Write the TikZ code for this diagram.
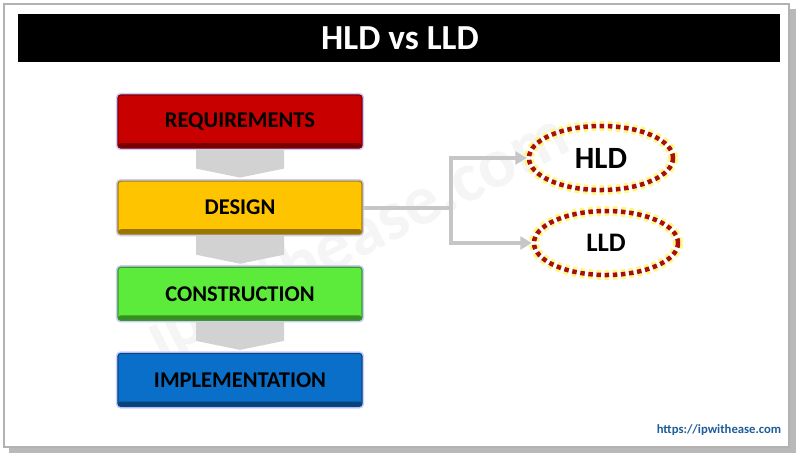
\documentclass[tikz,border=0pt]{standalone}
\usepackage{fontspec}
\setmainfont{Carlito}
\usetikzlibrary{positioning,shapes.geometric,arrows.meta}

\definecolor{reqred}{HTML}{C80000}
\definecolor{desyellow}{HTML}{FFC400}
\definecolor{congreen}{HTML}{5CEB3A}
\definecolor{impblue}{HTML}{0A6FC8}
\definecolor{dotred}{HTML}{A80E0E}
\definecolor{urlblue}{HTML}{1F5C99}

\tikzset{
	stage/.style={draw=#1!65!black, fill=#1, line width=0.8pt, rounded corners=2pt,
		minimum width=6.1cm, minimum height=1.325cm, font=\fontsize{16}{18}\selectfont\bfseries,
		preaction={draw=blue!20, line width=3pt},
		path picture={\fill[#1!60!black] (path picture bounding box.south west) rectangle ([yshift=3.5pt]path picture bounding box.south east);}},
	design/.style={ellipse, draw=dotred, line width=3.2pt, dash pattern=on 3.2pt off 2.6pt,
		minimum width=3.6cm, minimum height=1.6cm, preaction={draw=yellow!50, line width=7pt}},
	link/.style={draw=gray!45, line width=2.8pt},
	chevron/.style={fill=gray!35}
}

\begin{document}
\begin{tikzpicture}[x=0.025cm,y=-0.025cm,node distance=0.8cm]
	\useasboundingbox (0,0) rectangle (800,455);
	
	% frame and title
	\fill[gray!55] (9,9) rectangle (796,453);
	\fill[white,draw=gray!60,line width=1pt] (4,4) rectangle (789,447);
	\fill[black] (18,14) rectangle (780,62);
	\node[white,font=\fontsize{25}{28}\selectfont\bfseries] (title) at (400,38) {HLD vs LLD};
	
	% watermark
	\node[gray!8,rotate=27,font=\fontsize{50}{50}\selectfont\bfseries] (mark) at (358,238) {ipwithease.com};
	
	% stages
	\node[stage=reqred] (req) at (240,121.5) {REQUIREMENTS};
	\node[stage=desyellow,below=of req] (des) {DESIGN};
	\node[stage=congreen,below=of des] (con) {CONSTRUCTION};
	\node[stage=impblue,below=of con] (imp) {IMPLEMENTATION};
	
	\foreach \s in {req,des,con}
		\fill[chevron] (\s.south) ++(-44,1) -- ++(88,0) -- ++(0,19) -- ++(-44,9) -- ++(-44,-9) -- cycle;
	
	% HLD / LLD
	\node[design,font=\fontsize{22}{24}\selectfont\bfseries] (hld) at (601,158) {HLD};
	\node[design,font=\fontsize{19}{22}\selectfont\bfseries] (lld) at (606,243) {LLD};
	
	\draw[link] (des.east) -- ++(88,0) coordinate (split);
	\draw[link,-{Triangle[length=8pt,width=9pt]}] (split) |- (hld.west);
	\draw[link,-{Triangle[length=8pt,width=9pt]}] (split) |- (lld.west);
	
	\node[urlblue,font=\fontsize{9}{10}\selectfont\bfseries] (url) at (719,430) {https://ipwithease.com};
\end{tikzpicture}
\end{document}
